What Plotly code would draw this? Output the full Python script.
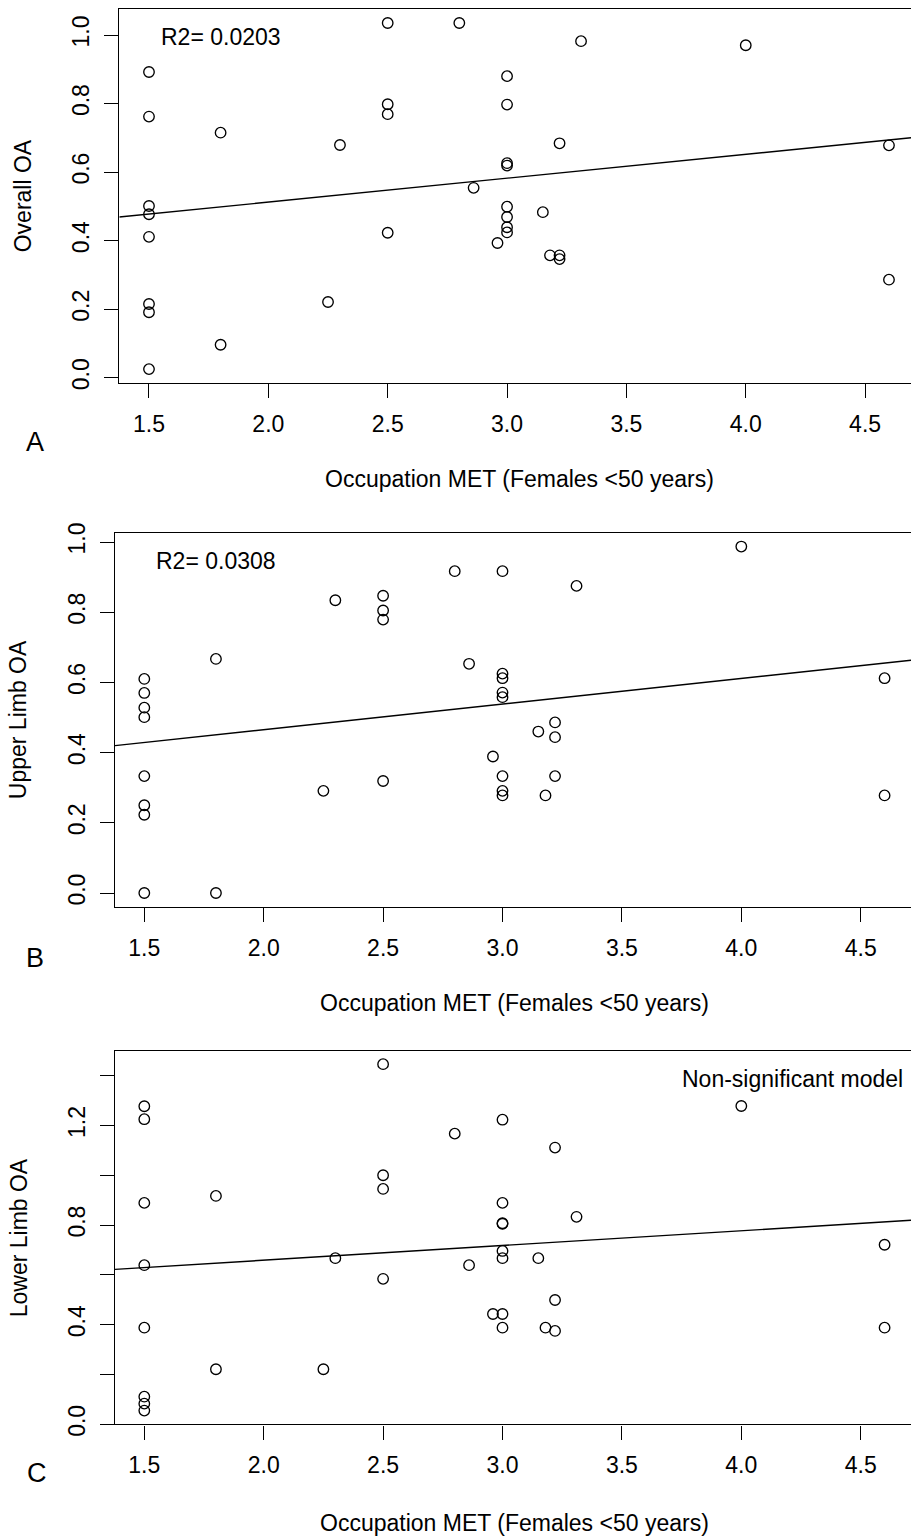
import plotly.graph_objects as go

# ---------------- data ----------------
met = [1.5, 1.5, 1.5, 1.5, 1.5, 1.5, 1.5, 1.5,
       1.8, 1.8, 2.25, 2.3, 2.5, 2.5, 2.5, 2.5, 2.8, 2.86, 2.96,
       3.0, 3.0, 3.0, 3.0, 3.0, 3.0, 3.0, 3.0,
       3.15, 3.18, 3.22, 3.22, 3.22, 3.31, 4.0, 4.6, 4.6]

overall_oa = [0.892, 0.762, 0.501, 0.477, 0.411, 0.215, 0.191, 0.025,
              0.715, 0.096, 0.221, 0.679, 1.035, 0.798, 0.769, 0.423, 1.035, 0.554, 0.393,
              0.880, 0.797, 0.626, 0.619, 0.499, 0.469, 0.439, 0.424,
              0.483, 0.357, 0.684, 0.357, 0.346, 0.982, 0.970, 0.678, 0.286]

upper_oa = [0.610, 0.570, 0.528, 0.501, 0.333, 0.250, 0.223, 0.0,
            0.667, 0.0, 0.291, 0.834, 0.847, 0.805, 0.779, 0.319, 0.917, 0.653, 0.389,
            0.917, 0.625, 0.612, 0.571, 0.558, 0.333, 0.291, 0.278,
            0.460, 0.278, 0.486, 0.444, 0.333, 0.875, 0.987, 0.612, 0.278]

lower_oa = [1.277, 1.225, 0.889, 0.639, 0.388, 0.111, 0.083, 0.055,
            0.917, 0.221, 0.221, 0.667, 1.446, 1.0, 0.945, 0.584, 1.167, 0.639, 0.443,
            1.223, 0.889, 0.807, 0.805, 0.696, 0.667, 0.443, 0.388,
            0.667, 0.388, 1.111, 0.499, 0.375, 0.833, 1.278, 0.721, 0.388]

# fitted lines (intercept, slope)
fit_A = (0.373, 0.0697)
fit_B = (0.3196, 0.0729)
fit_C = (0.5406, 0.0591)

y_titles = ["Overall OA", "Upper Limb OA", "Lower Limb OA"]
x_title = "Occupation MET (Females <50 years)"
panel_letters = ["A", "B", "C"]
notes = ["R2= 0.0203", "R2= 0.0308", "Non-significant model"]

yticks_AB = [0.0, 0.2, 0.4, 0.6, 0.8, 1.0]
yticks_C = [0.0, 0.2, 0.4, 0.6, 0.8, 1.0, 1.2, 1.4]
yticktext_C = ["0.0", "", "0.4", "", "0.8", "", "1.2", ""]
xticks = [1.5, 2.0, 2.5, 3.0, 3.5, 4.0, 4.5]

# ---------------- layout geometry ----------------
W, H = 911, 1536
FONT = "Liberation Sans, Arial, Helvetica, sans-serif"
FS = 23


def px_x(p):
    return p / W


def px_y(p):
    return 1 - p / H


panels = [
    dict(y=overall_oa, fit=fit_A, left=119.3, top=9, bottom=383,
         xr=[1.3756, 4.6923], yr=[-0.0155, 1.0759],
         ytv=yticks_AB, ytt=[f"{v:.1f}" for v in yticks_AB],
         note_xy=(1.8, 0.993), title_x=519, title_y=479, ytitle_x=23.3,
         letter_xy=(35, 442)),
    dict(y=upper_oa, fit=fit_B, left=115, top=532.7, bottom=906.7,
         xr=[1.3773, 4.7106], yr=[-0.039, 1.0265],
         ytv=yticks_AB, ytt=[f"{v:.1f}" for v in yticks_AB],
         note_xy=(1.8, 0.945), title_x=514.6, title_y=1003, ytitle_x=17.5,
         letter_xy=(35, 957.5)),
    dict(y=lower_oa, fit=fit_C, left=115, top=1050.7, bottom=1424.3,
         xr=[1.3773, 4.7106], yr=[0.0, 1.500],
         ytv=yticks_C, ytt=yticktext_C,
         note_xy=(4.214, 1.387), title_x=514.6, title_y=1523, ytitle_x=18.8,
         letter_xy=(36.5, 1473)),
]

fig = go.Figure()
annotations = []
layout_axes = {}

for i, p in enumerate(panels, start=1):
    xa = "x" if i == 1 else f"x{i}"
    ya = "y" if i == 1 else f"y{i}"
    fig.add_trace(go.Scatter(
        x=met, y=p["y"], mode="markers", xaxis=xa, yaxis=ya,
        marker=dict(symbol="circle-open", size=10.5, color="black",
                    line=dict(width=1.35, color="black")),
        showlegend=False, hoverinfo="x+y"))
    b0, b1 = p["fit"]
    xl = p["xr"]
    fig.add_trace(go.Scatter(
        x=xl, y=[b0 + b1 * xl[0], b0 + b1 * xl[1]], mode="lines",
        xaxis=xa, yaxis=ya, line=dict(color="black", width=1.4),
        showlegend=False, hoverinfo="skip"))

    common = dict(showgrid=False, zeroline=False, ticks="outside", ticklen=14,
                  tickwidth=1.4, tickcolor="black", linecolor="black", linewidth=1.4,
                  tickfont=dict(family=FONT, size=FS, color="black"))
    layout_axes["xaxis" if i == 1 else f"xaxis{i}"] = dict(
        common, domain=[px_x(p["left"]), 1.0], range=p["xr"], anchor=ya,
        tickvals=xticks, ticktext=[f"{v:.1f}" for v in xticks],
        showline=True, mirror=True, ticklabelstandoff=6)
    layout_axes["yaxis" if i == 1 else f"yaxis{i}"] = dict(
        common, domain=[px_y(p["bottom"]), px_y(p["top"])], range=p["yr"], anchor=xa,
        tickvals=p["ytv"], ticktext=p["ytt"], tickangle=-90,
        showline=True, mirror=False, ticklabelstandoff=6)

    nx, ny = p["note_xy"]
    annotations.append(dict(x=nx, y=ny, xref=xa, yref=ya, text=notes[i - 1],
                            showarrow=False, xanchor="center", yanchor="middle",
                            font=dict(family=FONT, size=FS, color="black")))
    annotations.append(dict(x=px_x(p["title_x"]), y=px_y(p["title_y"]), xref="paper",
                            yref="paper", text=x_title, showarrow=False,
                            xanchor="center", yanchor="middle",
                            font=dict(family=FONT, size=FS, color="black")))
    annotations.append(dict(x=px_x(p["ytitle_x"]), y=px_y((p["top"] + p["bottom"]) / 2),
                            xref="paper", yref="paper", text=y_titles[i - 1],
                            showarrow=False, textangle=-90, xanchor="center",
                            yanchor="middle",
                            font=dict(family=FONT, size=FS, color="black")))
    lx, ly = p["letter_xy"]
    annotations.append(dict(x=px_x(lx), y=px_y(ly), xref="paper", yref="paper",
                            text=panel_letters[i - 1], showarrow=False,
                            xanchor="center", yanchor="middle",
                            font=dict(family=FONT, size=27, color="black")))

fig.update_layout(
    width=W, height=H, margin=dict(l=0, r=0, t=0, b=0, autoexpand=False),
    paper_bgcolor="white", plot_bgcolor="white",
    annotations=annotations, **layout_axes)

fig.write_html(
    "out.html",
    config={"responsive": False, "displayModeBar": False},
    post_script="document.body.style.margin='0px';document.body.style.overflow='hidden';",
)
